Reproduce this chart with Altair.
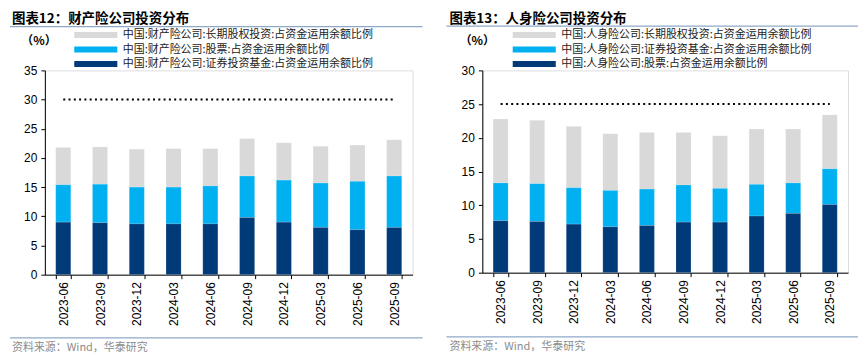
import altair as alt
import pandas as pd

dates = ["2023-06", "2023-09", "2023-12", "2024-03", "2024-06",
         "2024-09", "2024-12", "2025-03", "2025-06", "2025-09"]

# 财产险公司 (left panel)
left_names = ["中国:财产险公司:长期股权投资:占资金运用余额比例",
              "中国:财产险公司:股票:占资金运用余额比例",
              "中国:财产险公司:证券投资基金:占资金运用余额比例"]
left_lte = [6.4, 6.4, 6.5, 6.6, 6.4, 6.4, 6.4, 6.3, 6.2, 6.2]
left_stock = [6.4, 6.6, 6.3, 6.3, 6.5, 7.1, 7.2, 7.6, 8.3, 8.8]
left_fund = [9.0, 8.9, 8.7, 8.7, 8.7, 9.8, 9.0, 8.1, 7.7, 8.1]
left_ref = [30, 30, 30, 30, 30, 30, 30, 30, 30, 30]
left_ticks = [0, 5, 10, 15, 20, 25, 30, 35]
left_title = "图表12：财产险公司投资分布"

# 人身险公司 (right panel)
right_names = ["中国:人身险公司:长期股权投资:占资金运用余额比例",
               "中国:人身险公司:证券投资基金:占资金运用余额比例",
               "中国:人身险公司:股票:占资金运用余额比例"]
right_lte = [9.5, 9.4, 9.1, 8.4, 8.4, 7.8, 7.8, 8.2, 8.0, 8.0]
right_fund = [5.6, 5.6, 5.4, 5.4, 5.4, 5.5, 5.0, 4.7, 4.5, 5.3]
right_stock = [7.7, 7.6, 7.2, 6.8, 7.0, 7.5, 7.5, 8.4, 8.8, 10.1]
right_ref = [25, 25, 25, 25, 25, 25, 25, 25, 25, 25]
right_ticks = [0, 5, 10, 15, 20, 25, 30]
right_title = "图表13：人身险公司投资分布"

colors = ["#D9D9D9", "#00B0F0", "#003A78"]
source_text = "资料来源：Wind，华泰研究"
unit_text = "（%）"

CJK = "Noto Sans CJK SC"
LAT = "Liberation Sans"
# wide flat swatch drawn around a small (6px) symbol box
RECT = "M-7.2,-1L7.2,-1L7.2,1L-7.2,1Z"


def panel(names, top, mid, bottom, ref, ticks, title, w, h, geo):
    rows = []
    for i, d in enumerate(dates):
        rows.append({"date": d, "series": names[0], "value": top[i], "rank": 2})
        rows.append({"date": d, "series": names[1], "value": mid[i], "rank": 1})
        rows.append({"date": d, "series": names[2], "value": bottom[i], "rank": 0})
    df = pd.DataFrame(rows)
    ref_df = pd.DataFrame({"date": dates, "ref": ref})
    one = pd.DataFrame({"t": [0]})

    xaxis = alt.Axis(labelAngle=-90, labelFont=LAT, labelFontSize=12,
                     labelColor="#000", domainColor="#000", tickColor="#000",
                     tickSize=4, tickBand="extent", labelPadding=3,
                     labelBaseline="middle")
    xscale = alt.Scale(paddingInner=0.59, paddingOuter=0.295)
    yaxis = alt.Axis(values=ticks, grid=False, labelOverlap=False,
                     labelFont=LAT, labelFontSize=12, labelColor="#000",
                     domainColor="#000", tickColor="#000", tickSize=4,
                     labelPadding=4)
    yscale = alt.Scale(domain=[0, ticks[-1]], nice=False)

    bars = alt.Chart(df).mark_bar(stroke="#FFFFFF", strokeWidth=0.3, strokeOpacity=0.5).encode(
        x=alt.X("date:N", sort=dates, title=None, scale=xscale, axis=xaxis),
        y=alt.Y("value:Q", stack="zero", title=None, scale=yscale, axis=yaxis),
        color=alt.Color("series:N", scale=alt.Scale(domain=names, range=colors),
                        legend=alt.Legend(orient="none", legendX=geo["lx"], legendY=geo["ly"],
                                          title=None, symbolType=RECT, symbolSize=36,
                                          symbolStrokeWidth=0, labelFont=CJK,
                                          labelFontSize=11, labelColor="#222222",
                                          labelOffset=21.6, rowPadding=2.6, labelLimit=400)),
        order=alt.Order("rank:Q", sort="ascending"),
    )
    line = alt.Chart(ref_df).mark_line(color="#000", strokeWidth=2,
                                       strokeDash=[2, 3.3]).encode(
        x=alt.X("date:N", sort=dates, title=None, scale=xscale, axis=xaxis),
        y=alt.Y("ref:Q", title=None, scale=yscale, axis=yaxis))
    ttl = alt.Chart(one).mark_text(text=title, font=CJK, fontSize=13.5, fontWeight="bold",
                                   align="left", baseline="middle", color="#000").encode(
        x=alt.value(geo["tx"]), y=alt.value(geo["ty"]))
    trule = alt.Chart(one).mark_rule(color="#8EA9C8", strokeWidth=1.2).encode(
        x=alt.value(geo["rx1"]), x2=alt.value(geo["rx2"]), y=alt.value(geo["ry"]))
    unit = alt.Chart(one).mark_text(text=unit_text, font=CJK, fontSize=12, fontWeight="bold",
                                    align="center", baseline="middle", color="#000").encode(
        x=alt.value(geo["ux"]), y=alt.value(geo["uy"]))
    frule = alt.Chart(one).mark_rule(color="#8EA9C8", strokeWidth=1.2).encode(
        x=alt.value(geo["rx1"]), x2=alt.value(geo["rx2"]), y=alt.value(geo["fy"]))
    foot = alt.Chart(one).mark_text(text=source_text, font=CJK, fontSize=11,
                                    align="left", baseline="middle", color="#8C8C8C").encode(
        x=alt.value(geo["tx"]), y=alt.value(geo["fy"] + 10))
    return alt.layer(bars, line, ttl, trule, unit, frule, foot).properties(width=w, height=h)


left = panel(left_names, left_lte, left_stock, left_fund, left_ref, left_ticks, left_title,
             369, 205,
             dict(lx=45.6, ly=-41, tx=-33, ty=-52, rx1=-35, rx2=379, ry=-44,
                  ux=-6, uy=-29, fy=268.5))
right = panel(right_names, right_lte, right_fund, right_stock, right_ref, right_ticks, right_title,
              367, 203,
              dict(lx=46.6, ly=-41, tx=-33, ty=-52, rx1=-36, rx2=377, ry=-44.5,
                   ux=-5, uy=-29, fy=267.5))

chart = alt.hconcat(left, right, spacing=20).resolve_scale(
    color="independent", x="independent", y="independent"
).resolve_legend(color="independent").properties(
    padding={"left": 0, "top": 2, "right": 0, "bottom": 0}
).configure_view(stroke=None).configure(background="#FFFFFF")

chart.save("out.html", embed_options={"renderer": "svg", "actions": False})
